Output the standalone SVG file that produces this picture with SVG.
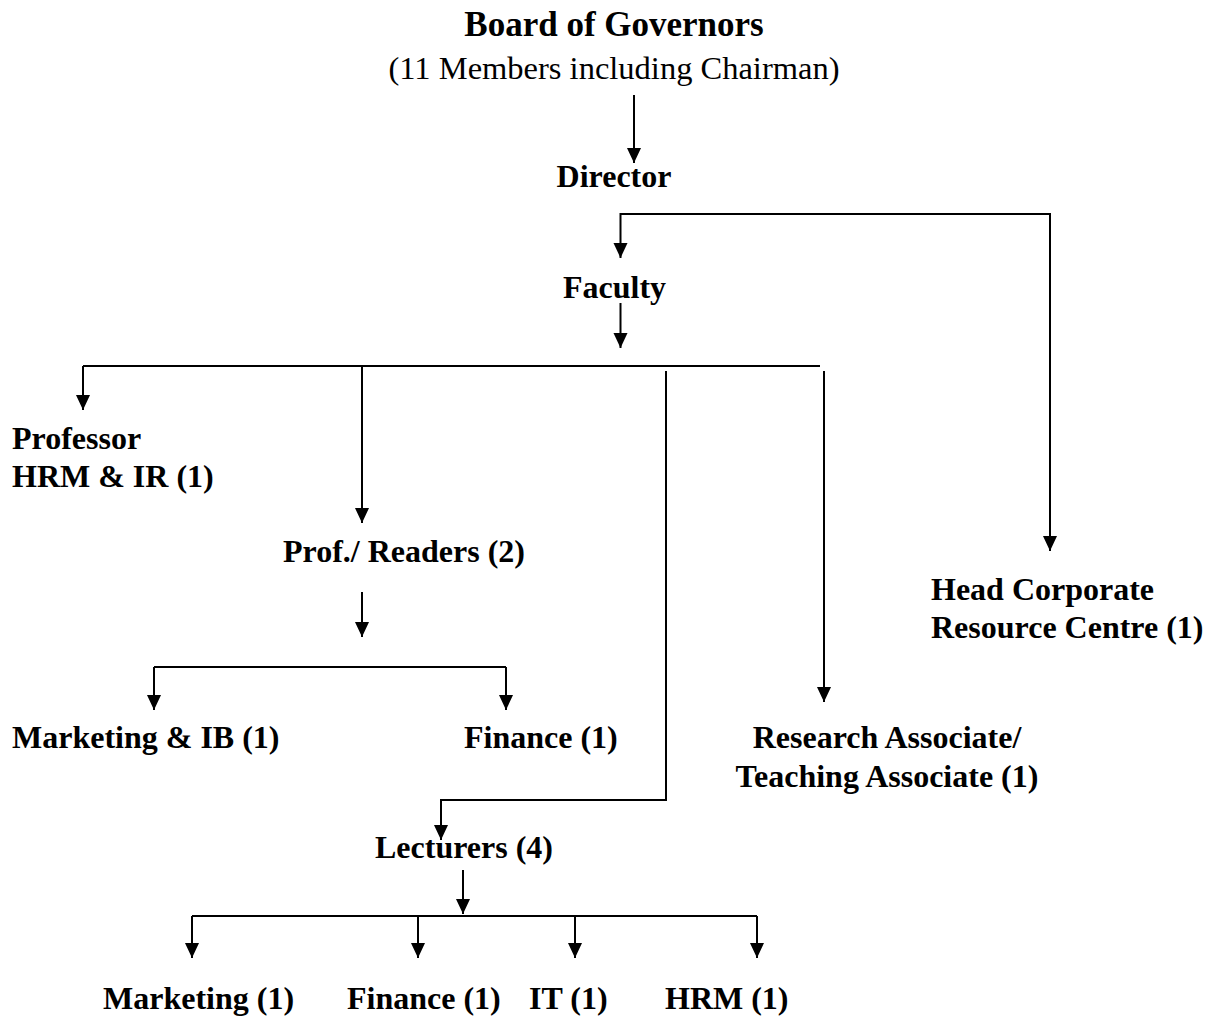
<svg xmlns="http://www.w3.org/2000/svg" width="1218" height="1018" viewBox="0 0 1218 1018">
<style>
text{font-family:"Liberation Serif","Times New Roman",serif;fill:#000}
.b{font-weight:bold;font-size:32px}
.t{font-weight:bold;font-size:35px}
.r{font-weight:normal;font-size:32.5px}
.c{text-anchor:middle}
.ln{fill:none;stroke:#000;stroke-width:2}
.ar{marker-end:url(#ah)}
</style>
<defs>
<marker id="ah" markerUnits="userSpaceOnUse" markerWidth="16" markerHeight="16" viewBox="0 -8 16 16" refX="15" refY="0" orient="auto">
<path d="M0,-7 L15,0 L0,7 z" fill="#000"/>
</marker>
</defs>
<rect width="1218" height="1018" fill="#fff"/>
<g id="connectors">
<path class="ln ar" d="M634,95 V163"/>
<path class="ln ar" d="M835,214 H620.5 V258"/>
<path class="ln ar" d="M835,214 H1050 V551"/>
<path class="ln ar" d="M620.5,303 V348"/>
<path class="ln" d="M83,366 H820"/>
<path class="ln ar" d="M83,366 V410"/>
<path class="ln ar" d="M362,366 V523"/>
<path class="ln ar" d="M666,371 V800 H441 V840"/>
<path class="ln ar" d="M824,371 V702"/>
<path class="ln ar" d="M362,592 V637"/>
<path class="ln" d="M154,667 H506"/>
<path class="ln ar" d="M154,667 V710"/>
<path class="ln ar" d="M506,667 V710"/>
<path class="ln ar" d="M463,870 V914"/>
<path class="ln" d="M192,916 H757"/>
<path class="ln ar" d="M192,916 V958"/>
<path class="ln ar" d="M418,916 V958"/>
<path class="ln ar" d="M575,916 V958"/>
<path class="ln ar" d="M757,916 V958"/>
</g>
<g id="board">
<text class="t c" x="614" y="36">Board of Governors</text>
<text class="r c" x="614" y="79">(11 Members including Chairman)</text>
</g>
<g id="director"><text class="b c" x="614" y="187">Director</text></g>
<g id="faculty"><text class="b c" x="614.5" y="298">Faculty</text></g>
<g id="professor">
<text class="b" x="12" y="449">Professor</text>
<text class="b" x="12" y="487">HRM &amp; IR (1)</text>
</g>
<g id="prof-readers"><text class="b" x="283" y="562">Prof./ Readers (2)</text></g>
<g id="marketing-ib"><text class="b" x="12" y="748">Marketing &amp; IB (1)</text></g>
<g id="finance-pr"><text class="b" x="464" y="748">Finance (1)</text></g>
<g id="research-associate">
<text class="b c" x="887" y="748">Research Associate/</text>
<text class="b c" x="887" y="787">Teaching Associate (1)</text>
</g>
<g id="head-crc">
<text class="b" x="931" y="600">Head Corporate</text>
<text class="b" x="931" y="638">Resource Centre (1)</text>
</g>
<g id="lecturers"><text class="b" x="375" y="858">Lecturers (4)</text></g>
<g id="lec-marketing"><text class="b" x="103" y="1009">Marketing (1)</text></g>
<g id="lec-finance"><text class="b" x="347" y="1009">Finance (1)</text></g>
<g id="lec-it"><text class="b" x="529" y="1009">IT (1)</text></g>
<g id="lec-hrm"><text class="b" x="665" y="1009">HRM (1)</text></g>
</svg>
